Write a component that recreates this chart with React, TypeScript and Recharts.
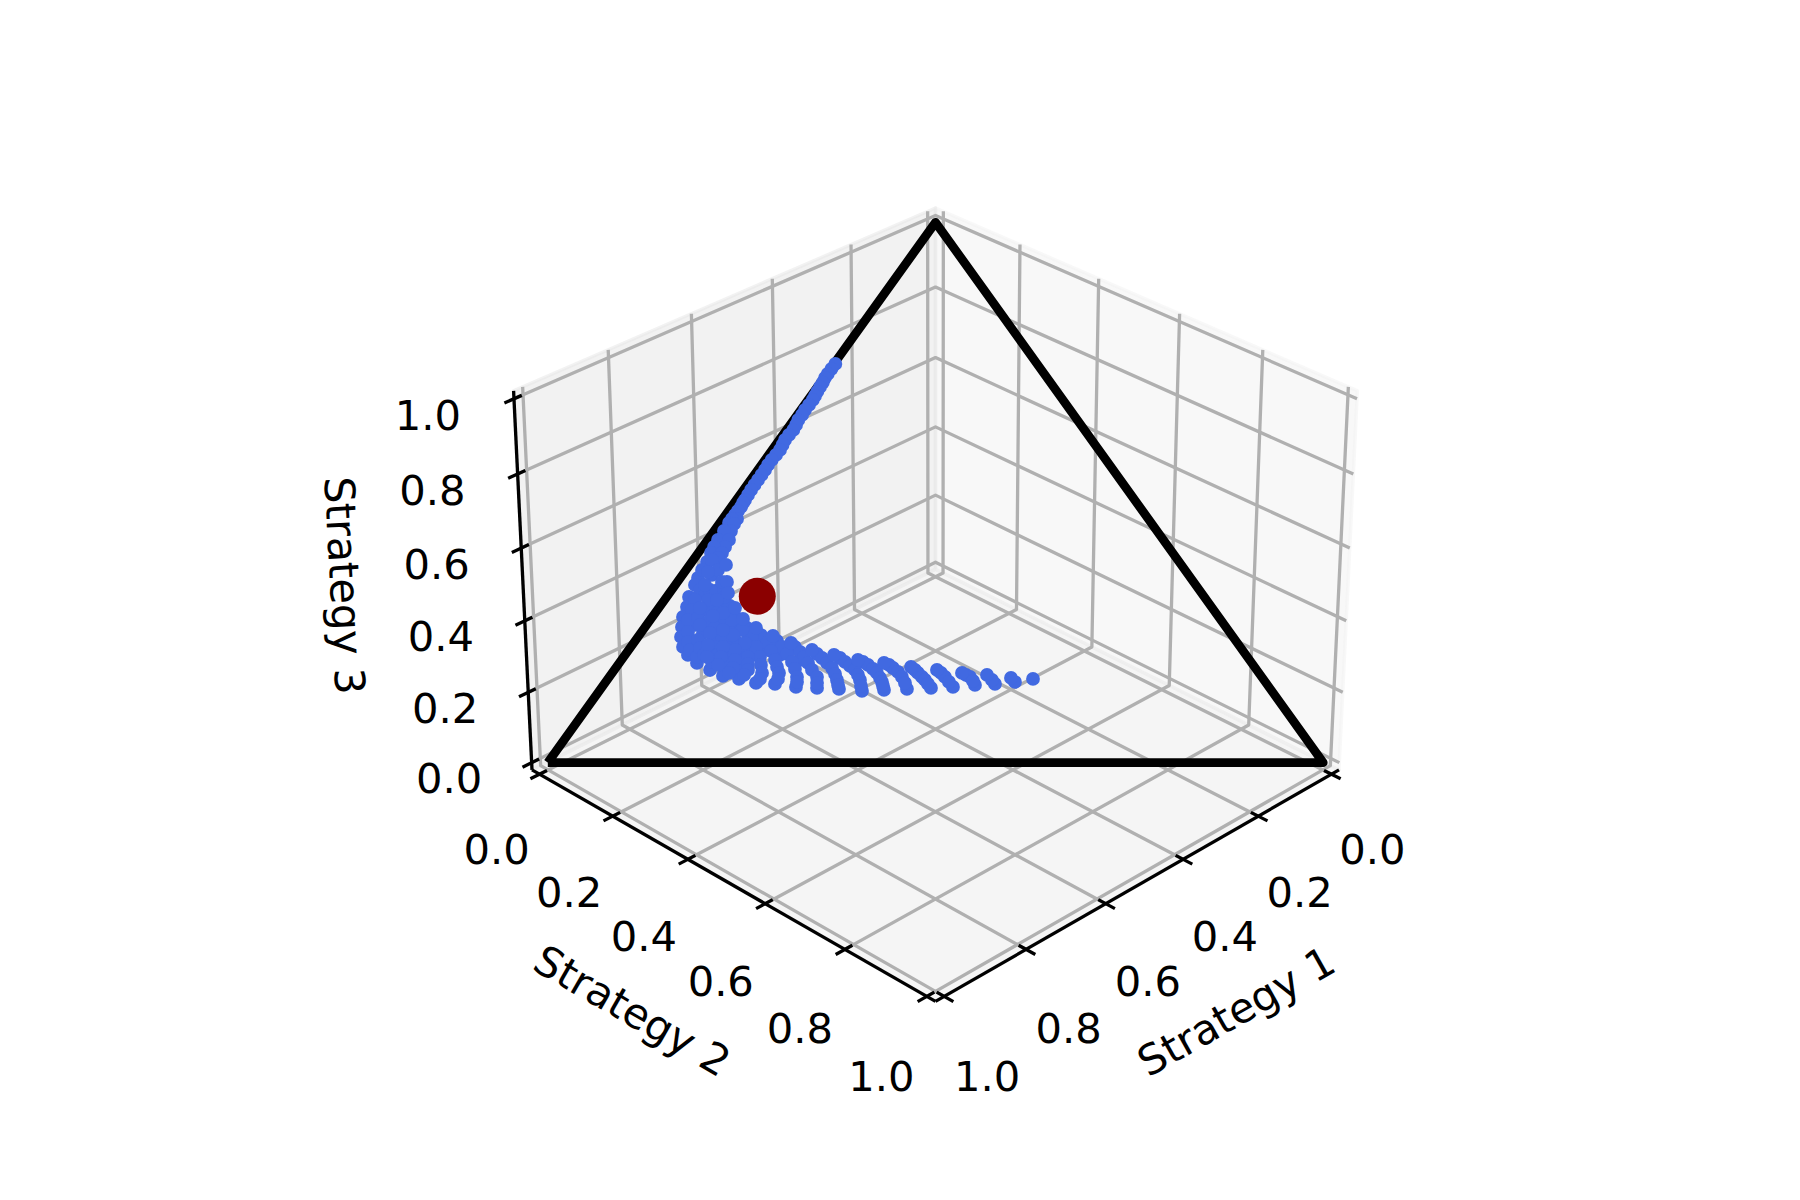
import { ScatterChart, Scatter, XAxis, YAxis } from "recharts";

type Triple = [number, number, number];

const tickValues = [0, 0.2, 0.4, 0.6, 0.8, 1];
const tickLabels = ["0.0", "0.2", "0.4", "0.6", "0.8", "1.0"];

const simplexCorners: Triple[] = [[1, 0, 0], [0, 1, 0], [0, 0, 1], [1, 0, 0]];
const interiorPoint: Triple[] = [[0.5805, 0.1171, 0.3024]];

// thin streak running up the left edge of the simplex
const streakPoints: Triple[] = [
    [0.2653, 0.0019, 0.7328], [0.2749, 0.0015, 0.7236], [0.2846, 0.0013, 0.7141], [0.2918, 0.0015, 0.7067],
    [0.2992, 0.003, 0.6978], [0.3068, 0.0034, 0.6898], [0.3147, 0.0044, 0.6809], [0.3217, 0.0053, 0.673],
    [0.3284, 0.0061, 0.6655], [0.3379, 0.0059, 0.6562], [0.3478, 0.0054, 0.6468], [0.3563, 0.0062, 0.6375],
    [0.3658, 0.006, 0.6282], [0.3734, 0.0078, 0.6188], [0.3816, 0.0089, 0.6095], [0.3919, 0.0079, 0.6002],
    [0.4017, 0.0074, 0.5909], [0.4095, 0.0089, 0.5816], [0.4174, 0.0102, 0.5724], [0.4273, 0.0097, 0.563],
    [0.4375, 0.0087, 0.5538], [0.4469, 0.0086, 0.5445], [0.4554, 0.0094, 0.5352], [0.4646, 0.0095, 0.5259],
    [0.4737, 0.0096, 0.5167], [0.4829, 0.0097, 0.5074], [0.492, 0.0099, 0.4981], [0.5005, 0.0106, 0.4889],
    [0.509, 0.0114, 0.4796], [0.5143, 0.0116, 0.4741], [0.5206, 0.0127, 0.4667], [0.5282, 0.0125, 0.4593],
    [0.5357, 0.0124, 0.4519], [0.5367, 0.0187, 0.4446], [0.5433, 0.0121, 0.4446], [0.5508, 0.012, 0.4372],
    [0.5452, 0.0195, 0.4353], [0.5556, 0.0221, 0.4223], [0.5647, 0.013, 0.4223], [0.5806, 0.0136, 0.4058],
    [0.5663, 0.0279, 0.4058], [0.5778, 0.0292, 0.393], [0.5921, 0.0149, 0.393], [0.6015, 0.0166, 0.3819],
    [0.5872, 0.0309, 0.3819], [0.5969, 0.0304, 0.3727], [0.6149, 0.0198, 0.3653], [0.641, 0.023, 0.336],
];

// outer envelope, round the blob and along the ends of the arcs
const envelopePoints: Triple[] = [
    [0.6286, 0.0208, 0.3506], [0.6513, 0.0256, 0.3231], [0.6699, 0.029, 0.3011], [0.6815, 0.0357, 0.2828],
    [0.6957, 0.0398, 0.2645], [0.706, 0.0478, 0.2462], [0.7162, 0.0558, 0.228], [0.7226, 0.0677, 0.2097],
    [0.7233, 0.0815, 0.1952], [0.7188, 0.1006, 0.1806], [0.7082, 0.124, 0.1678], [0.6968, 0.1463, 0.1569],
    [0.6787, 0.1698, 0.1515], [0.6603, 0.1955, 0.1442], [0.6366, 0.221, 0.1424], [0.6121, 0.2509, 0.137],
    [0.5858, 0.2791, 0.1351], [0.5583, 0.3084, 0.1333], [0.5303, 0.34, 0.1297], [0.5009, 0.3676, 0.1315],
    [0.4703, 0.3964, 0.1333], [0.4383, 0.4266, 0.1351], [0.4089, 0.4541, 0.137], [0.3786, 0.4808, 0.1406],
    [0.3518, 0.5058, 0.1424], [0.3241, 0.5299, 0.146], [0.298, 0.5505, 0.1515],
];

// upper end of each arc
const arcHeads: Triple[] = [
    [0.5929, 0.0473, 0.3598], [0.607, 0.0644, 0.3286], [0.6156, 0.076, 0.3084], [0.62, 0.099, 0.281],
    [0.6196, 0.1196, 0.2608], [0.6108, 0.1448, 0.2444], [0.596, 0.1742, 0.2298], [0.5789, 0.2041, 0.217],
    [0.558, 0.2377, 0.2043], [0.534, 0.2708, 0.1952], [0.5075, 0.3065, 0.186], [0.4764, 0.343, 0.1806],
    [0.4451, 0.3816, 0.1733], [0.4142, 0.418, 0.1678], [0.3845, 0.4531, 0.1624], [0.3539, 0.4873, 0.1588],
    [0.3256, 0.5211, 0.1533],
];

// points along the arcs, from the right hand arc to the left
const arcMiddles: Triple[] = [
    [0.3521, 0.4983, 0.1496], [0.3811, 0.46, 0.1589], [0.3778, 0.4671, 0.1551], [0.3775, 0.4746, 0.1479],
    [0.4117, 0.4259, 0.1624], [0.4102, 0.4347, 0.1551], [0.4096, 0.4444, 0.146],
    [0.4427, 0.3895, 0.1678], [0.4415, 0.3961, 0.1624], [0.4399, 0.405, 0.1551], [0.4388, 0.4116, 0.1496], [0.4385, 0.4191, 0.1424],
    [0.4718, 0.3513, 0.1769], [0.4694, 0.3592, 0.1714], [0.4665, 0.3693, 0.1642], [0.4659, 0.379, 0.1551], [0.4674, 0.3884, 0.1442],
    [0.5028, 0.3148, 0.1824], [0.499, 0.3241, 0.1769], [0.4961, 0.3342, 0.1697], [0.4946, 0.343, 0.1624],
    [0.4952, 0.3515, 0.1533], [0.4963, 0.3577, 0.146], [0.4986, 0.3627, 0.1387],
    [0.529, 0.2814, 0.1896], [0.5261, 0.2915, 0.1824], [0.5232, 0.3017, 0.1751], [0.5204, 0.3118, 0.1678],
    [0.521, 0.3202, 0.1588], [0.523, 0.3274, 0.1496], [0.5271, 0.3342, 0.1387],
    [0.5551, 0.2479, 0.197], [0.5523, 0.2581, 0.1896], [0.5503, 0.2691, 0.1806], [0.5484, 0.2802, 0.1714],
    [0.5499, 0.2896, 0.1605], [0.5528, 0.2976, 0.1496], [0.5559, 0.3035, 0.1406],
    [0.5774, 0.2129, 0.2097], [0.5754, 0.224, 0.2006], [0.5747, 0.2338, 0.1915], [0.5749, 0.2445, 0.1806],
    [0.5761, 0.2561, 0.1678], [0.5759, 0.269, 0.1551], [0.5813, 0.2745, 0.1442],
    [0.5953, 0.184, 0.2207], [0.5942, 0.1961, 0.2097], [0.594, 0.209, 0.197], [0.5948, 0.2228, 0.1824],
    [0.5972, 0.2331, 0.1697], [0.6018, 0.2431, 0.1551], [0.6063, 0.2477, 0.146],
    [0.6107, 0.1577, 0.2316], [0.61, 0.173, 0.217], [0.6121, 0.1855, 0.2024], [0.615, 0.199, 0.186],
    [0.6187, 0.208, 0.1733], [0.6215, 0.2161, 0.1624], [0.6282, 0.2203, 0.1515],
    [0.6225, 0.1331, 0.2444], [0.6241, 0.1479, 0.228], [0.628, 0.1623, 0.2097], [0.6318, 0.1767, 0.1915],
    [0.6377, 0.1854, 0.1769], [0.6435, 0.1941, 0.1624], [0.6515, 0.197, 0.1515],
    [0.6261, 0.1131, 0.2608], [0.6308, 0.1284, 0.2408], [0.6386, 0.1444, 0.217], [0.6473, 0.1612, 0.1915],
    [0.6536, 0.1677, 0.1787], [0.659, 0.1732, 0.1678], [0.6686, 0.1726, 0.1588],
    [0.6248, 0.0906, 0.2846], [0.6348, 0.1062, 0.259], [0.647, 0.1214, 0.2316], [0.6578, 0.1379, 0.2043],
    [0.6669, 0.1471, 0.186], [0.6767, 0.1519, 0.1714], [0.6863, 0.1513, 0.1624],
    [0.6231, 0.0758, 0.3011], [0.6401, 0.0881, 0.2718], [0.6554, 0.1038, 0.2408], [0.6708, 0.1195, 0.2097],
    [0.6823, 0.1262, 0.1915], [0.6933, 0.1298, 0.1769],
    [0.6135, 0.0579, 0.3286], [0.6362, 0.0682, 0.2956], [0.6558, 0.0778, 0.2664], [0.675, 0.0897, 0.2353],
    [0.6884, 0.0982, 0.2134], [0.7005, 0.108, 0.1915],
];

// solid part of the blob
const blobPoints: Triple[] = [
    [0.6493, 0.0368, 0.3139], [0.6608, 0.0619, 0.2773], [0.6873, 0.0628, 0.2499], [0.7052, 0.0814, 0.2134],
    [0.6202, 0.0384, 0.3414], [0.6259, 0.0602, 0.3139], [0.6474, 0.0479, 0.3047], [0.6548, 0.0953, 0.2499],
    [0.6967, 0.099, 0.2043], [0.6837, 0.1303, 0.186], [0.6469, 0.1397, 0.2134], [0.6319, 0.1638, 0.2043],
    [0.6066, 0.0244, 0.369], [0.6078, 0.0416, 0.3506], [0.6226, 0.0304, 0.347], [0.6363, 0.0498, 0.3139],
    [0.6648, 0.0396, 0.2956], [0.6777, 0.045, 0.2773], [0.6446, 0.069, 0.2864], [0.6919, 0.0491, 0.259],
    [0.6771, 0.0602, 0.2627], [0.6677, 0.0769, 0.2554], [0.7027, 0.0602, 0.2371], [0.6841, 0.0806, 0.2353],
    [0.7116, 0.0695, 0.2189], [0.6735, 0.104, 0.2225], [0.7162, 0.0795, 0.2043], [0.6882, 0.1111, 0.2007],
    [0.7134, 0.0951, 0.1915], [0.6941, 0.1199, 0.186], [0.658, 0.1195, 0.2225], [0.6727, 0.1321, 0.1952],
    [0.654, 0.1417, 0.2043], [0.61, 0.1675, 0.2225], [0.6398, 0.1194, 0.2408],
    [0.6302, 0.0595, 0.3103], [0.6181, 0.068, 0.3139], [0.6383, 0.0386, 0.3231], [0.6479, 0.0565, 0.2956],
    [0.6342, 0.0794, 0.2864], [0.6655, 0.0535, 0.281], [0.6457, 0.0806, 0.2737], [0.6327, 0.0936, 0.2737],
    [0.6503, 0.0907, 0.259], [0.6326, 0.112, 0.2554], [0.6808, 0.0693, 0.2499], [0.664, 0.0916, 0.2444],
    [0.6489, 0.1103, 0.2408], [0.6266, 0.1399, 0.2335], [0.6969, 0.0806, 0.2225], [0.6657, 0.1118, 0.2225],
    [0.6489, 0.1286, 0.2225], [0.6229, 0.1546, 0.2225], [0.7014, 0.0906, 0.208], [0.6811, 0.1092, 0.2097],
    [0.6651, 0.1269, 0.208], [0.6467, 0.1526, 0.2007], [0.6364, 0.1684, 0.1952], [0.615, 0.1807, 0.2043],
    [0.604, 0.2008, 0.1952], [0.7025, 0.1023, 0.1952], [0.6844, 0.1204, 0.1952], [0.6716, 0.1388, 0.1896],
    [0.656, 0.1544, 0.1896], [0.6985, 0.1191, 0.1824], [0.6825, 0.1369, 0.1806], [0.6649, 0.1582, 0.1769],
    [0.5865, 0.2092, 0.2043], [0.5826, 0.2314, 0.186],
];

const FONT = "DejaVu Sans";
const PAD = 1 / 48; // panes stick out a little past the axis limits
const LO = -PAD;
const HI = 1 + PAD;

// same camera as a matplotlib 3d axes: elev 30, azim 45, dist 10
const BOX: Triple = [1.1429, 1.1429, 0.8571];
const U: Triple = [-0.7071, 0.7071, 0];
const V: Triple = [-0.3536, -0.3536, 0.866];
const W: Triple = [0.6124, 0.6124, 0.5];
const DIST = 10;
const ZOOM = 4900;
const CX = 935.5;
const CY = 584.6;

function project([a, b, c]: Triple) {
    const d = [(a - 0.5) * BOX[0], (b - 0.5) * BOX[1], (c - 0.5) * BOX[2]];
    const dot = (m: Triple) => m[0] * d[0] + m[1] * d[1] + m[2] * d[2];
    const depth = DIST - dot(W);
    return { x: CX + (ZOOM * dot(U)) / depth, y: CY - (ZOOM * dot(V)) / depth };
}

const toPoints = (list: Triple[]) => list.map(project);

const paneX: Triple[] = [[LO, LO, LO], [LO, HI, LO], [LO, HI, HI], [LO, LO, HI], [LO, LO, LO]];
const paneY: Triple[] = [[LO, LO, LO], [HI, LO, LO], [HI, LO, HI], [LO, LO, HI], [LO, LO, LO]];
const paneZ: Triple[] = [[LO, LO, LO], [HI, LO, LO], [HI, HI, LO], [LO, HI, LO], [LO, LO, LO]];

const gridLines: Triple[][] = tickValues.flatMap((t): Triple[][] => [
    [[t, HI, LO], [t, LO, LO], [t, LO, HI]],
    [[HI, t, LO], [LO, t, LO], [LO, t, HI]],
    [[HI, LO, t], [LO, LO, t], [LO, HI, t]],
]);

const axisLines: Triple[][] = [
    [[LO, HI, LO], [HI, HI, LO]],
    [[HI, LO, LO], [HI, HI, LO]],
    [[HI, LO, LO], [HI, LO, HI]],
];

const TICK_OUT = 0.022;
const TICK_IN = 0.018;
const tickMarks: Triple[][] = tickValues.flatMap((t): Triple[][] => [
    [[t, HI + TICK_OUT, LO], [t, HI - TICK_IN, LO]],
    [[HI + TICK_OUT, t, LO], [HI - TICK_IN, t, LO]],
    [[HI + TICK_OUT, LO, t], [HI - TICK_IN, LO, t]],
]);

const tickTexts = tickValues.flatMap((t, i) => [
    { ...project([t, HI, LO]), label: tickLabels[i], dx: 41 + 2 * t, dy: 90 + 4.5 * t },
    { ...project([HI, t, LO]), label: tickLabels[i], dx: -43 - 2.5 * t, dy: 90 + 4.5 * t },
    { ...project([HI, LO, t]), label: tickLabels[i], dx: -82.5 - 3.5 * t, dy: 30 + t },
]);

const axisTitles = [
    { ...project([0.5, HI, LO]), label: "Strategy 1", dx: 91.5, dy: 130, rotate: -29.5 },
    { ...project([HI, 0.5, LO]), label: "Strategy 2", dx: -94, dy: 129.5, rotate: 30 },
    { ...project([HI, LO, 0.5]), label: "Strategy 3", dx: -178.5, dy: 1, rotate: 87 },
];

const noDot = () => <g />;

const tickText = ({ cx, cy, payload }: any) => (
    <text x={cx + payload.dx} y={cy + payload.dy} textAnchor="middle" fontFamily={FONT} fontSize={41.67} fill="#000">
        {payload.label}
    </text>
);

const titleText = ({ cx, cy, payload }: any) => {
    const x = cx + payload.dx;
    const y = cy + payload.dy;
    return (
        <text
            x={x} y={y}
            textAnchor="middle" dominantBaseline="central"
            fontFamily={FONT} fontSize={41.67} fill="#000"
            transform={`rotate(${payload.rotate} ${x} ${y})`}
        >
            {payload.label}
        </text>
    );
};

const blueDot = ({ cx, cy }: any) => <circle cx={cx} cy={cy} r={6.9} fill="#4169E1" />;
const redDot = ({ cx, cy }: any) => <circle cx={cx} cy={cy} r={18.5} fill="#8B0000" />;

function polyline(key: string, list: Triple[], line: object) {
    return <Scatter key={key} data={toPoints(list)} line={line} shape={noDot} isAnimationActive={false} />;
}

const panes: [Triple[], string][] = [[paneX, "#f2f2f2"], [paneY, "#e6e6e6"], [paneZ, "#ececec"]];

const bluePoints = [...streakPoints, ...envelopePoints, ...blobPoints, ...arcMiddles, ...arcHeads];

export default function App() {
    return (
        <div style={{ position: "absolute", left: 0, top: 0, width: 1800, height: 1200, background: "#fff" }}>
            <ScatterChart width={1800} height={1200} margin={{ top: 0, right: 0, bottom: 0, left: 0 }}>
                <XAxis type="number" dataKey="x" domain={[0, 1800]} hide />
                <YAxis type="number" dataKey="y" domain={[0, 1200]} reversed hide />
                {panes.map(([list, color], i) =>
                    polyline(`pane${i}`, list, {
                        stroke: color, strokeOpacity: 0.5, strokeWidth: 3.3,
                        fill: color, fillOpacity: 0.5, strokeLinejoin: "round",
                    })
                )}
                {gridLines.map((list, i) =>
                    polyline(`grid${i}`, list, { stroke: "#b0b0b0", strokeWidth: 3.3, strokeLinejoin: "round" })
                )}
                {axisLines.map((list, i) => polyline(`axis${i}`, list, { stroke: "#000", strokeWidth: 3.3 }))}
                {tickMarks.map((list, i) => polyline(`tick${i}`, list, { stroke: "#000", strokeWidth: 3.3 }))}
                <Scatter data={tickTexts} shape={tickText} isAnimationActive={false} />
                <Scatter data={axisTitles} shape={titleText} isAnimationActive={false} />
                {polyline("simplex", simplexCorners, { stroke: "#000", strokeWidth: 8.8, strokeLinejoin: "round" })}
                <Scatter data={toPoints(bluePoints)} shape={blueDot} isAnimationActive={false} />
                <Scatter data={toPoints(interiorPoint)} shape={redDot} isAnimationActive={false} />
            </ScatterChart>
        </div>
    );
}
